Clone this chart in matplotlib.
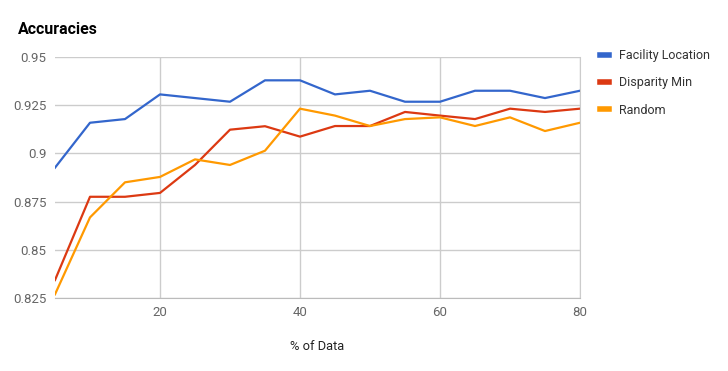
import matplotlib
matplotlib.use("Agg")
import matplotlib.pyplot as plt
from matplotlib.lines import Line2D

plt.rcParams['font.family'] = ['Roboto', 'DejaVu Sans']

pct_data = [5, 10, 15, 20, 25, 30, 35, 40, 45, 50, 55, 60, 65, 70, 75, 80]
facility_location = [0.8926, 0.9159, 0.9178, 0.9306, 0.9287, 0.9268, 0.9379, 0.9379,
                     0.9306, 0.9325, 0.9268, 0.9268, 0.9325, 0.9325, 0.9287, 0.9325]
disparity_min = [0.8343, 0.8775, 0.8775, 0.8795, 0.8940, 0.9123, 0.9141, 0.9087,
                 0.9142, 0.9142, 0.9215, 0.9196, 0.9178, 0.9232, 0.9215, 0.9232]
random_sel = [0.8269, 0.8668, 0.8850, 0.8878, 0.8969, 0.8940, 0.9014, 0.9232,
              0.9196, 0.9142, 0.9178, 0.9187, 0.9142, 0.9187, 0.9116, 0.9159]
series_names = ["Facility Location", "Disparity Min", "Random"]
colors = ["#3366cc", "#dc3912", "#ff9900"]
y_ticks = [0.825, 0.85, 0.875, 0.9, 0.925, 0.95]
y_tick_labels = ["0.825", "0.85", "0.875", "0.9", "0.925", "0.95"]
x_ticks = [20, 40, 60, 80]

W, H = 728, 371
fig = plt.figure(figsize=(W / 100, H / 100), dpi=100)
ax = fig.add_axes([55 / W, 1 - 298 / H, (580 - 55) / W, (298 - 57) / H])

for vals, name, c in zip([facility_location, disparity_min, random_sel], series_names, colors):
    ax.plot(pct_data, vals, color=c, lw=1.6, label=name, solid_joinstyle='round')

ax.set_xlim(5, 80)
ax.set_ylim(0.825, 0.95)
ax.set_yticks(y_ticks)
ax.set_yticklabels(y_tick_labels)
ax.set_xticks(x_ticks)
ax.grid(True, color="#cccccc", lw=1)
ax.set_axisbelow(True)
for s in ['top', 'left']:
    ax.spines[s].set_visible(False)
ax.spines['right'].set_color("#cccccc")
ax.spines['bottom'].set_color("#bbbbbb")
ax.tick_params(length=0, labelsize=9.5, pad=6)
for lab in ax.get_xticklabels() + ax.get_yticklabels():
    lab.set_color("#666666")

ax.set_xlabel("% of Data", fontsize=9.3, color="#222222", labelpad=15)

fig.text(18 / W, 1 - 29 / H, "Accuracies", fontsize=11.5, fontweight='bold',
         color="#000000", va='center', ha='left')

handles = [Line2D([], [], color=c, lw=4) for c in colors]
leg = ax.legend(handles, series_names, loc='upper left', bbox_to_anchor=(600 / W, 1 - 49 / H),
                bbox_transform=fig.transFigure, frameon=False, handlelength=0.75,
                handletextpad=0.75, labelspacing=1.15, fontsize=9, borderaxespad=0,
                borderpad=0)
for t in leg.get_texts():
    t.set_color("#333333")

fig.savefig("out.png", dpi=100)
